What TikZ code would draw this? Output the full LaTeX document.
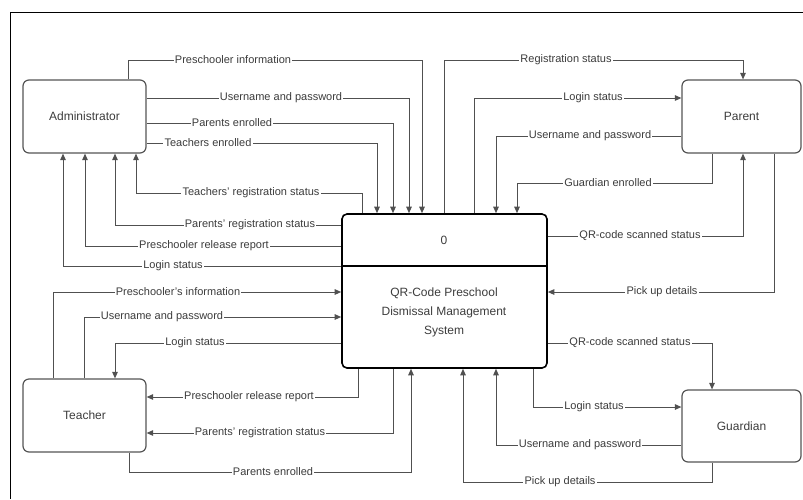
\documentclass[tikz,border=0pt]{standalone}
\usepackage{fontspec}
\setmainfont{Liberation Sans}
\usetikzlibrary{arrows.meta}
\definecolor{ln}{HTML}{505050}
\definecolor{tx}{HTML}{3c3c3c}
\definecolor{bx}{HTML}{555555}
\begin{document}
\begin{tikzpicture}[x=1pt,y=-1pt,
  ext/.style={draw=bx,line width=1.2pt,rounded corners=6pt,minimum width=123pt,minimum height=73pt,
    text=tx,font=\fontsize{12}{14}\selectfont,inner sep=0pt},
  sysbox/.style={draw=black,line width=1.6pt,rounded corners=5pt,minimum width=205pt,minimum height=154pt,inner sep=0pt},
  systxt/.style={text=tx,font=\fontsize{12}{19}\selectfont,align=center,inner sep=0pt},
  flow/.style={draw=ln,line width=1pt,-{Triangle[length=6.5pt,width=5.5pt]}},
  lbl/.style={fill=white,text=tx,font=\fontsize{11}{13}\selectfont,inner sep=1.2pt}]
\useasboundingbox (0,0) rectangle (803,499);
\draw[line width=1pt,black] (803,12) -- (10,12) -- (10,499);

\node[ext] (adm) at (84.5,116.5) {Administrator};
\node[ext,minimum width=119pt] (par) at (741.5,116.5) {Parent};
\node[ext] (tea) at (84.5,415.5) {Teacher};
\node[ext,minimum width=119pt,minimum height=72pt] (gua) at (741.5,426) {Guardian};
\node[sysbox] (sys) at (444.5,291) {};
\draw[black,line width=1.6pt] (sys.west |- 0,266) -- (sys.east |- 0,266);
\node[systxt] (zero) at (444,240) {0};
\node[systxt] (sysname) at (444,312) {QR-Code Preschool\\Dismissal Management\\System};

% Administrator flows
\draw[flow] (adm.north -| 128,0) -- (128,60) -- (422,60) -- (sys.north -| 422,0);
\draw[flow] (adm.east |- 0,98) -- (409,98) -- (sys.north -| 409,0);
\draw[flow] (adm.east |- 0,123) -- (393,123) -- (sys.north -| 393,0);
\draw[flow] (adm.east |- 0,143) -- (377,143) -- (sys.north -| 377,0);
\draw[flow] (sys.north -| 362,0) -- (362,193) -- (136,193) -- (adm.south -| 136,0);
\draw[flow] (sys.west |- 0,225) -- (115,225) -- (adm.south -| 115,0);
\draw[flow] (sys.west |- 0,246) -- (85,246) -- (adm.south -| 85,0);
\draw[flow] (sys.west |- 0,266) -- (63,266) -- (adm.south -| 63,0);

% Parent flows
\draw[flow] (sys.north -| 444,0) -- (444,60) -- (743,60) -- (par.north -| 743,0);
\draw[flow] (sys.north -| 474,0) -- (474,98) -- (par.west |- 0,98);
\draw[flow] (par.west |- 0,136) -- (496,136) -- (sys.north -| 496,0);
\draw[flow] (par.south -| 712,0) -- (712,183) -- (517,183) -- (sys.north -| 517,0);
\draw[flow] (sys.east |- 0,236) -- (743,236) -- (par.south -| 743,0);
\draw[flow] (par.south -| 774,0) -- (774,292) -- (sys.east |- 0,292);

% Teacher flows
\draw[flow] (tea.north -| 53,0) -- (53,292) -- (sys.west |- 0,292);
\draw[flow] (tea.north -| 84,0) -- (84,317) -- (sys.west |- 0,317);
\draw[flow] (sys.west |- 0,343) -- (115,343) -- (tea.north -| 115,0);
\draw[flow] (sys.south -| 358,0) -- (358,397) -- (tea.east |- 0,397);
\draw[flow] (sys.south -| 393,0) -- (393,433) -- (tea.east |- 0,433);
\draw[flow] (tea.south -| 129,0) -- (129,472) -- (411,472) -- (sys.south -| 411,0);

% Guardian flows
\draw[flow] (sys.east |- 0,343) -- (712,343) -- (gua.north -| 712,0);
\draw[flow] (sys.south -| 533,0) -- (533,407) -- (gua.west |- 0,407);
\draw[flow] (gua.west |- 0,445) -- (496,445) -- (sys.south -| 496,0);
\draw[flow] (gua.south -| 712,0) -- (712,482) -- (463,482) -- (sys.south -| 463,0);

% Labels
\node[lbl] (l1) at (233,60) {Preschooler information};
\node[lbl] (l2) at (281,98) {Username and password};
\node[lbl] (l3) at (232,123) {Parents enrolled};
\node[lbl] (l4) at (208,143) {Teachers enrolled};
\node[lbl] (l5) at (251,193) {Teachers' registration status};
\node[lbl] (l6) at (250,225) {Parents' registration status};
\node[lbl] (l7) at (204,246) {Preschooler release report};
\node[lbl] (l8) at (173,266) {Login status};
\node[lbl] (l9) at (566,60) {Registration status};
\node[lbl] (l10) at (593,98) {Login status};
\node[lbl] (l11) at (590,136) {Username and password};
\node[lbl] (l12) at (608,183) {Guardian enrolled};
\node[lbl] (l13) at (640,236) {QR-code scanned status};
\node[lbl] (l14) at (662,292) {Pick up details};
\node[lbl] (l15) at (178,292) {Preschooler's information};
\node[lbl] (l16) at (162,317) {Username and password};
\node[lbl] (l17) at (195,343) {Login status};
\node[lbl] (l18) at (249,397) {Preschooler release report};
\node[lbl] (l19) at (260,433) {Parents' registration status};
\node[lbl] (l20) at (273,472) {Parents enrolled};
\node[lbl] (l21) at (630,343) {QR-code scanned status};
\node[lbl] (l22) at (594,407) {Login status};
\node[lbl] (l23) at (580,445) {Username and password};
\node[lbl] (l24) at (560,482) {Pick up details};
\end{tikzpicture}
\end{document}
